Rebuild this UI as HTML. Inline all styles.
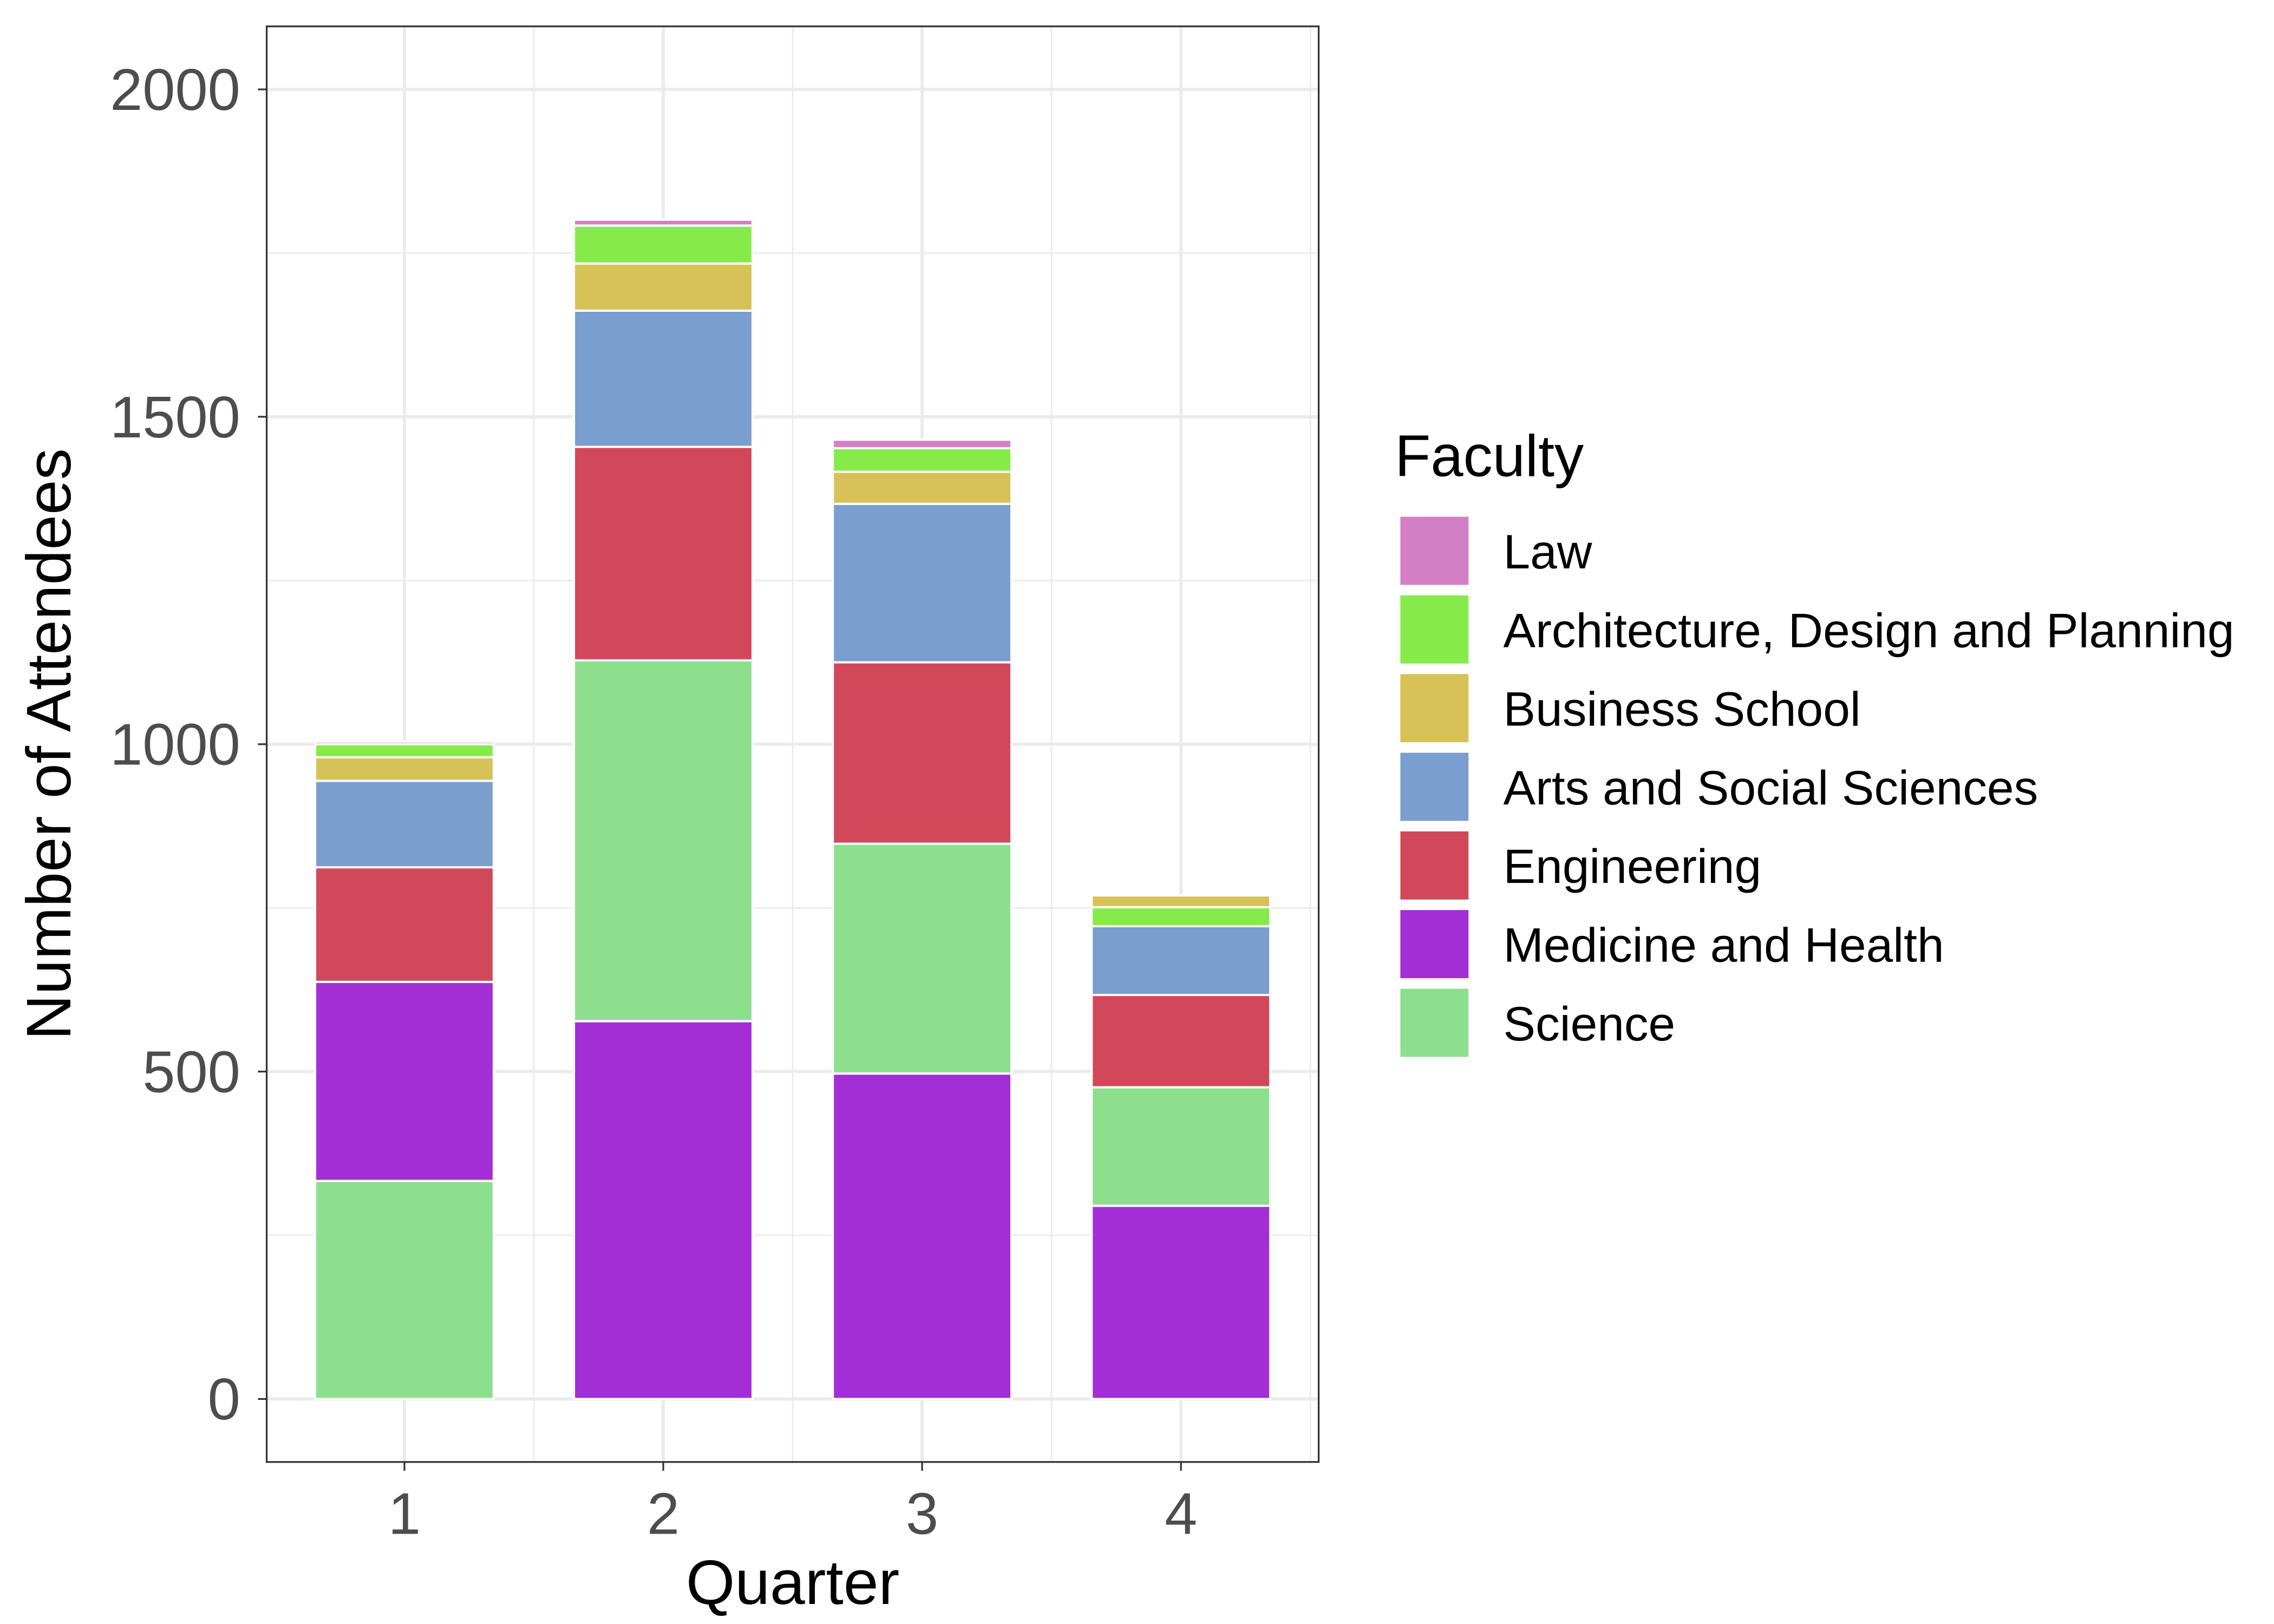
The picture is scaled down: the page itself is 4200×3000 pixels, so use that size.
<!DOCTYPE html>
<html><head><meta charset="utf-8"><style>html,body{margin:0;padding:0;background:#fff}svg{display:block}</style></head>
<body>
<svg id="chart" xmlns="http://www.w3.org/2000/svg" width="4200" height="3000" viewBox="0 0 1552 1108.6" font-family="'Liberation Sans', sans-serif">
<rect x="0" y="0" width="1552" height="1108.6" fill="#fff"/>
<g id="grid"></g>
<g id="bars"></g>
<rect x="182" y="18" width="718" height="980" fill="none" stroke="#333" stroke-width="1.2"/>
<g id="axes"></g>
<text x="541" y="1095" font-size="43" text-anchor="middle" fill="#000">Quarter</text>
<text transform="translate(48,508) rotate(-90)" font-size="43" text-anchor="middle" fill="#000">Number of Attendees</text>
<g id="legend"></g>
</svg>
<script>
const quarters = ["1","2","3","4"];
const faculties = ["Law","Architecture, Design and Planning","Business School","Arts and Social Sciences","Engineering","Medicine and Health","Science"];
const colors = ["#d37fc6","#86eb4a","#d7c257","#7a9ecd","#d2485b","#a42ed6","#8ddf8e"];
// per-quarter stacking order (bottom to top) and values
const stackOrder = [
  ["Science","Medicine and Health","Engineering","Arts and Social Sciences","Business School","Architecture, Design and Planning","Law"],
  ["Medicine and Health","Science","Engineering","Arts and Social Sciences","Business School","Architecture, Design and Planning","Law"],
  ["Medicine and Health","Science","Engineering","Arts and Social Sciences","Business School","Architecture, Design and Planning","Law"],
  ["Medicine and Health","Science","Engineering","Arts and Social Sciences","Architecture, Design and Planning","Business School"]
];
const stackValues = [
  [333,304,175,132,36,20,4],
  [577,551,326,208,72,58,9],
  [497,351,277,242,49,36,13],
  [295,181,141,105,29,18]
];
const yTicks = [0,500,1000,1500,2000];
const yMinor = [250,750,1250,1750];

const NS="http://www.w3.org/2000/svg";
function el(tag,attrs,parent){const e=document.createElementNS(NS,tag);for(const k in attrs)e.setAttribute(k,attrs[k]);parent.appendChild(e);return e;}
const y=v=>955-v*(894/2000);
const x=i=>276+i*176.67;
const bw=0.69*176.67;
const grid=document.getElementById('grid'),bars=document.getElementById('bars'),axes=document.getElementById('axes'),legend=document.getElementById('legend');
yMinor.forEach(v=>{const l=el('line',{x1:182,x2:900,y1:y(v),y2:y(v),stroke:'#ebebeb','stroke-width':1},grid);

});
[0.5,1.5,2.5,3.5].forEach(i=>{const l=el('line',{x1:x(i),x2:x(i),y1:18,y2:998,stroke:'#ebebeb','stroke-width':1},grid);

});
yTicks.forEach(v=>{const l=el('line',{x1:182,x2:900,y1:y(v),y2:y(v),stroke:'#ebebeb','stroke-width':2.2},grid);


const t=el('line',{x1:176,x2:182,y1:y(v),y2:y(v),stroke:'#333','stroke-width':1.2},axes);


const tx=el('text',{x:164,y:y(v)+14,'font-size':40,'text-anchor':'end',fill:'#4d4d4d'},axes);tx.textContent=v;

});
quarters.forEach((q,i)=>{const l=el('line',{x1:x(i),x2:x(i),y1:18,y2:998,stroke:'#ebebeb','stroke-width':2.2},grid);


const t=el('line',{x1:x(i),x2:x(i),y1:998,y2:1004,stroke:'#333','stroke-width':1.2},axes);


const tx=el('text',{x:x(i),y:1047,'font-size':40,'text-anchor':'middle',fill:'#4d4d4d'},axes);tx.textContent=q;


let cum=0;
stackOrder[i].forEach((f,j)=>{const v=stackValues[i][j];
const r=el('rect',{x:x(i)-bw/2,y:y(cum+v),width:bw,height:y(cum)-y(cum+v),fill:colors[faculties.indexOf(f)],stroke:'#fff','stroke-width':1.5},bars);


cum+=v;});});
const lt=el('text',{x:952,y:325,'font-size':40,fill:'#000'},legend);lt.textContent='Faculty';


faculties.forEach((f,k)=>{const yy=352+k*53.7;
const g=el('g',{},legend);


el('rect',{x:955,y:yy,width:48,height:48,fill:colors[k],stroke:'#fff','stroke-width':1.5},g);
const t=el('text',{x:1026,y:yy+36,'font-size':33,fill:'#000'},g);t.textContent=f;});
</script>
</body></html>
